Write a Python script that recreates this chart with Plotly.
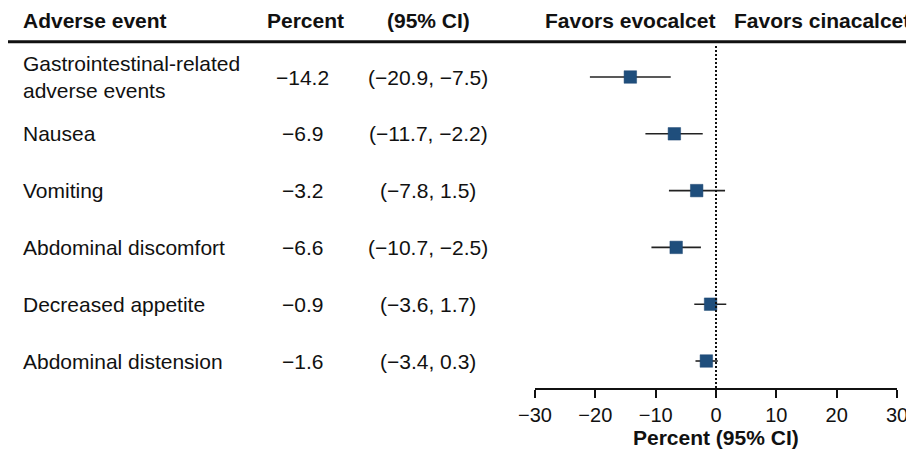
import plotly.graph_objects as go

events = ["Gastrointestinal-related<br>adverse events", "Nausea", "Vomiting",
          "Abdominal discomfort", "Decreased appetite", "Abdominal distension"]
percent = [-14.2, -6.9, -3.2, -6.6, -0.9, -1.6]
ci_low = [-20.9, -11.7, -7.8, -10.7, -3.6, -3.4]
ci_high = [-7.5, -2.2, 1.5, -2.5, 1.7, 0.3]
tick_vals = [-30, -20, -10, 0, 10, 20, 30]
tick_text = ["\u221230", "\u221220", "\u221210", "0", "10", "20", "30"]
headers = ["Adverse event", "Percent", "(95% CI)", "Favors evocalcet", "Favors cinacalcet"]
x_title = "Percent (95% CI)"

def fmt(v):
    return ("\u2212" if v < 0 else "") + f"{abs(v):.1f}"

# the page adds an 8px body margin; size the figure so it fits the 914x451 window
OFF = 8
W, H = 914 - OFF, 451 - OFF

def PX(x):
    return (x - OFF) / W

def PY(y):
    return 1 - (y - OFF) / H

rows = list(range(len(events)))
FONT = "Liberation Sans, Arial, Helvetica, sans-serif"
COLOR = "#111111"
FS = 21

fig = go.Figure()

for i in rows:
    fig.add_trace(go.Scatter(x=[ci_low[i], ci_high[i]], y=[i, i], mode="lines",
                             line=dict(color="#222222", width=1.6),
                             hoverinfo="skip", showlegend=False))
fig.add_trace(go.Scatter(x=percent, y=rows, mode="markers",
                         marker=dict(symbol="square", size=12.5, color="#1f4e7c",
                                     line=dict(color="#1a4470", width=0.5)),
                         showlegend=False))

ytop_px, ybot_px = 40, 388
# row i centred at page y = 77 + 56.8*i
r_top = (ytop_px - 77) / 56.8
r_bot = (ybot_px - 77) / 56.8
fig.update_layout(
    width=W, height=H, margin=dict(l=0, r=0, t=0, b=0, pad=0, autoexpand=False),
    plot_bgcolor="white", paper_bgcolor="white", showlegend=False,
    font=dict(family=FONT, size=FS, color=COLOR),
    xaxis=dict(domain=[PX(535), PX(897)], range=[-30, 30], tickvals=tick_vals, ticktext=tick_text,
               automargin=False,
               showgrid=False, zeroline=False, showline=True, linecolor="#111111", linewidth=1.5,
               ticks="outside", ticklen=8, tickwidth=1.5, tickcolor="#111111",
               tickfont=dict(size=20, family=FONT, color=COLOR)),
    yaxis=dict(domain=[PY(ybot_px), PY(ytop_px)], range=[r_bot, r_top], automargin=False,
               visible=False, showgrid=False, zeroline=False),
)

fig.add_shape(type="line", xref="x", yref="paper", x0=0, x1=0,
              y0=PY(ybot_px), y1=PY(44),
              line=dict(color="#111111", width=2, dash="2px,2px"))
fig.add_shape(type="line", xref="paper", yref="paper", x0=0, x1=1,
              y0=PY(41.7), y1=PY(41.7), line=dict(color="#111111", width=3))

hdr_x = [(21, "left"), (305, "center"), (428, "center"), (630, "center"), (822, "center")]
for txt, (x, anc) in zip(headers, hdr_x):
    fig.add_annotation(text=f"<b>{txt}</b>", xref="paper", yref="paper", x=PX(x), y=PY(20.5),
                       xanchor=anc, yanchor="middle", showarrow=False,
                       font=dict(size=FS, family=FONT, color=COLOR))

fig.add_annotation(text=f"<b>{x_title}</b>", xref="paper", yref="paper", x=PX(716), y=PY(437),
                   xanchor="center", yanchor="middle", showarrow=False,
                   font=dict(size=FS, family=FONT, color=COLOR))

for i in rows:
    fig.add_annotation(text=events[i], xref="paper", yref="y", x=PX(21), y=i,
                       xanchor="left", yanchor="middle", align="left", showarrow=False,
                       font=dict(size=FS, family=FONT, color=COLOR))
    fig.add_annotation(text=fmt(percent[i]), xref="paper", yref="y", x=PX(302), y=i,
                       xanchor="center", yanchor="middle", showarrow=False,
                       font=dict(size=FS, family=FONT, color=COLOR))
    fig.add_annotation(text=f"({fmt(ci_low[i])}, {fmt(ci_high[i])})", xref="paper", yref="y",
                       x=PX(428), y=i, xanchor="center", yanchor="middle", showarrow=False,
                       font=dict(size=FS, family=FONT, color=COLOR))

fig.write_html("out.html")
